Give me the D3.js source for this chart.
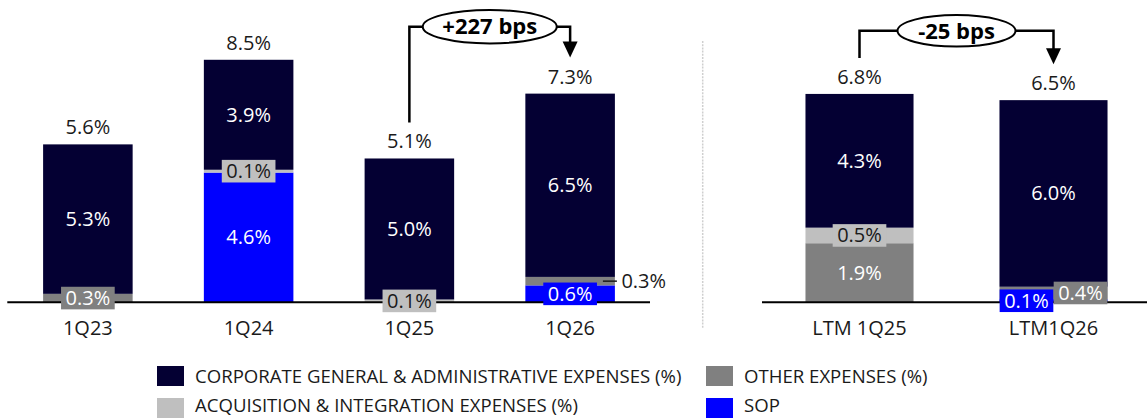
<!DOCTYPE html>
<html>
<head>
<meta charset="utf-8">
<script src="https://cdn.jsdelivr.net/npm/d3@7"></script>
<style>
  body { margin: 0; background: #fff; }
  svg { display: block; font-family: "Open Sans", sans-serif; }
</style>
</head>
<body>
<svg id="chart" width="1147" height="418"></svg>
<script>
// quarterly panel
const quarterCats = ["1Q23", "1Q24", "1Q25", "1Q26"];
const quarterSop = [0, 4.6, 0, 0.6];
const quarterOther = [0.3, 0, 0, 0.3];
const quarterAcq = [0, 0.1, 0.1, 0];
const quarterCga = [5.3, 3.9, 5.0, 6.5];
const quarterTotals = [5.6, 8.5, 5.1, 7.3];

// LTM panel
const ltmCats = ["LTM 1Q25", "LTM1Q26"];
const ltmSop = [0, 0.1];
const ltmOther = [1.9, 0.4];
const ltmAcq = [0.5, 0];
const ltmCga = [4.3, 6.0];
const ltmTotals = [6.8, 6.5];

const changeLabels = ["+227 bps", "-25 bps"];

const legendNames = {
  cga: "CORPORATE GENERAL & ADMINISTRATIVE EXPENSES (%)",
  other: "OTHER EXPENSES (%)",
  acq: "ACQUISITION & INTEGRATION EXPENSES (%)",
  sop: "SOP"
};

// stack order, bottom to top
const keys = ["sop", "other", "acq", "cga"];
const colors = { cga: "#040033", other: "#808080", acq: "#bfbfbf", sop: "#0000ff" };
const inkColors = { cga: "#ffffff", other: "#ffffff", acq: "#1a1a1a", sop: "#ffffff" };
const darkText = "#1a1a1a";

// labels that do not sit in the middle of their segment
const labelSpots = { "1Q26|other": "outside", "LTM1Q26|sop": "left", "LTM1Q26|other": "right" };

const svg = d3.select("#chart");
const baseY = 302.3;
const fmt = d => d3.format(".1f")(d) + "%";

function makeRows(cats, sop, other, acq, cga) {
  return cats.map((c, i) => ({ cat: c, sop: sop[i], other: other[i], acq: acq[i], cga: cga[i] }));
}

function drawPanel(p) {
  const g = svg.append("g");
  const x = d3.scaleBand().domain(p.cats).range(p.xRange).paddingInner(0.443).paddingOuter(0.2215);
  const y = d3.scaleLinear().domain([0, 10]).range([baseY, baseY - p.pxPerPct * 10]);
  const bw = x.bandwidth();
  const series = d3.stack().keys(keys)(p.rows);

  // bars
  series.forEach(s => {
    g.append("g").selectAll("rect")
      .data(s.filter(d => d[1] - d[0] > 0))
      .join("rect")
      .attr("x", d => x(d.data.cat))
      .attr("y", d => y(d[1]))
      .attr("width", bw)
      .attr("height", d => y(d[0]) - y(d[1]))
      .attr("fill", colors[s.key]);
  });

  // baseline
  g.append("line")
    .attr("x1", p.lineX[0]).attr("x2", p.lineX[1])
    .attr("y1", baseY).attr("y2", baseY)
    .attr("stroke", "#000").attr("stroke-width", 2);

  // segment labels
  series.forEach(s => {
    s.forEach(d => {
      const v = d[1] - d[0];
      if (v <= 0) return;
      const cat = d.data.cat;
      const spot = labelSpots[cat + "|" + s.key] || "center";
      const bx = x(cat);
      const cy = (y(d[0]) + y(d[1])) / 2;
      const lg = g.append("g");
      if (spot === "outside") {
        lg.append("line")
          .attr("x1", bx + bw - 12).attr("x2", bx + bw + 2)
          .attr("y1", cy).attr("y2", cy)
          .attr("stroke", darkText).attr("stroke-width", 1.5);
        lg.append("text")
          .attr("x", bx + bw + 6.5).attr("y", cy).attr("dy", "0.35em")
          .attr("font-size", 20).attr("fill", darkText)
          .text(fmt(v));
        return;
      }
      const cx = spot === "left" ? bx + bw * 0.25 : spot === "right" ? bx + bw * 0.75 : bx + bw / 2;
      const box = lg.append("rect");
      const t = lg.append("text")
        .attr("x", cx).attr("y", cy).attr("dy", "0.35em")
        .attr("text-anchor", "middle")
        .attr("font-size", 20).attr("fill", inkColors[s.key])
        .text(fmt(v));
      if (v < 1) {
        const w = t.node().getComputedTextLength() + 9;
        box.attr("x", cx - w / 2).attr("y", cy - 11.3)
          .attr("width", w).attr("height", 22.6)
          .attr("fill", colors[s.key]);
      } else {
        box.remove();
      }
    });
  });

  // totals above bars
  const tops = p.rows.map(r => d3.sum(keys, k => r[k]));
  g.append("g").selectAll("text")
    .data(p.cats)
    .join("text")
    .attr("x", c => x(c) + bw / 2)
    .attr("y", (c, i) => y(tops[i]) - 17)
    .attr("dy", "0.35em")
    .attr("text-anchor", "middle")
    .attr("font-size", 20).attr("fill", darkText)
    .text((c, i) => fmt(p.totals[i]));

  // category labels
  g.append("g").selectAll("text")
    .data(p.cats)
    .join("text")
    .attr("x", c => x(c) + bw / 2)
    .attr("y", 328.3)
    .attr("dy", "0.35em")
    .attr("text-anchor", "middle")
    .attr("font-size", 20).attr("fill", darkText)
    .text(c => c);

  // change bracket between two bars
  const [from, to] = p.change.between;
  const xa = x(p.cats[from]) + bw / 2;
  const xb = x(p.cats[to]) + bw / 2;
  const ya = y(tops[from]) - 36;
  const yb = y(tops[to]) - 36;
  const ey = p.change.ey;
  const ex = (xa + xb) / 2;
  const ag = g.append("g");
  ag.append("path")
    .attr("d", `M${xa},${ya}V${ey}H${xb}V${yb - 15}`)
    .attr("fill", "none").attr("stroke", "#000").attr("stroke-width", 2.5);
  ag.append("path")
    .attr("d", `M${xb - 7.5},${yb - 16}L${xb + 7.5},${yb - 16}L${xb},${yb}Z`)
    .attr("fill", "#000");
  ag.append("ellipse")
    .attr("cx", ex).attr("cy", ey)
    .attr("rx", p.change.rx).attr("ry", p.change.ry)
    .attr("fill", "#fff").attr("stroke", "#000").attr("stroke-width", 2);
  ag.append("text")
    .attr("x", ex).attr("y", ey).attr("dy", "0.35em")
    .attr("text-anchor", "middle")
    .attr("font-size", 22).attr("font-weight", 700).attr("fill", "#000")
    .text(p.change.label);
}

drawPanel({
  cats: quarterCats,
  rows: makeRows(quarterCats, quarterSop, quarterOther, quarterAcq, quarterCga),
  totals: quarterTotals,
  xRange: [7.5, 650.5],
  lineX: [7.3, 650],
  pxPerPct: 28.2,
  change: { between: [2, 3], label: changeLabels[0], ey: 26.7, rx: 67, ry: 16.7 }
});

drawPanel({
  cats: ltmCats,
  rows: makeRows(ltmCats, ltmSop, ltmOther, ltmAcq, ltmCga),
  totals: ltmTotals,
  xRange: [762.5, 1150.5],
  lineX: [762, 1147],
  pxPerPct: 31.1,
  change: { between: [0, 1], label: changeLabels[1], ey: 30.8, rx: 59, ry: 15.8 }
});

// dotted divider between panels
svg.append("line")
  .attr("x1", 702.7).attr("x2", 702.7)
  .attr("y1", 41).attr("y2", 328)
  .attr("stroke", "#cfcfcf").attr("stroke-width", 1.5)
  .attr("stroke-dasharray", "2,1.2");

// legend
const legendItems = [
  { key: "cga", x: 157, y: 366, ty: 10 },
  { key: "other", x: 706, y: 366, ty: 10 },
  { key: "acq", x: 157, y: 398, ty: 7.5 },
  { key: "sop", x: 706, y: 398, ty: 7.5 }
];
const leg = svg.append("g").selectAll("g")
  .data(legendItems)
  .join("g")
  .attr("transform", d => `translate(${d.x},${d.y})`);
leg.append("rect")
  .attr("width", 27).attr("height", 20)
  .attr("fill", d => colors[d.key]);
leg.append("text")
  .attr("x", 38).attr("y", d => d.ty).attr("dy", "0.35em")
  .attr("font-size", 18.6).attr("fill", darkText)
  .text(d => legendNames[d.key]);
</script>
</body>
</html>
